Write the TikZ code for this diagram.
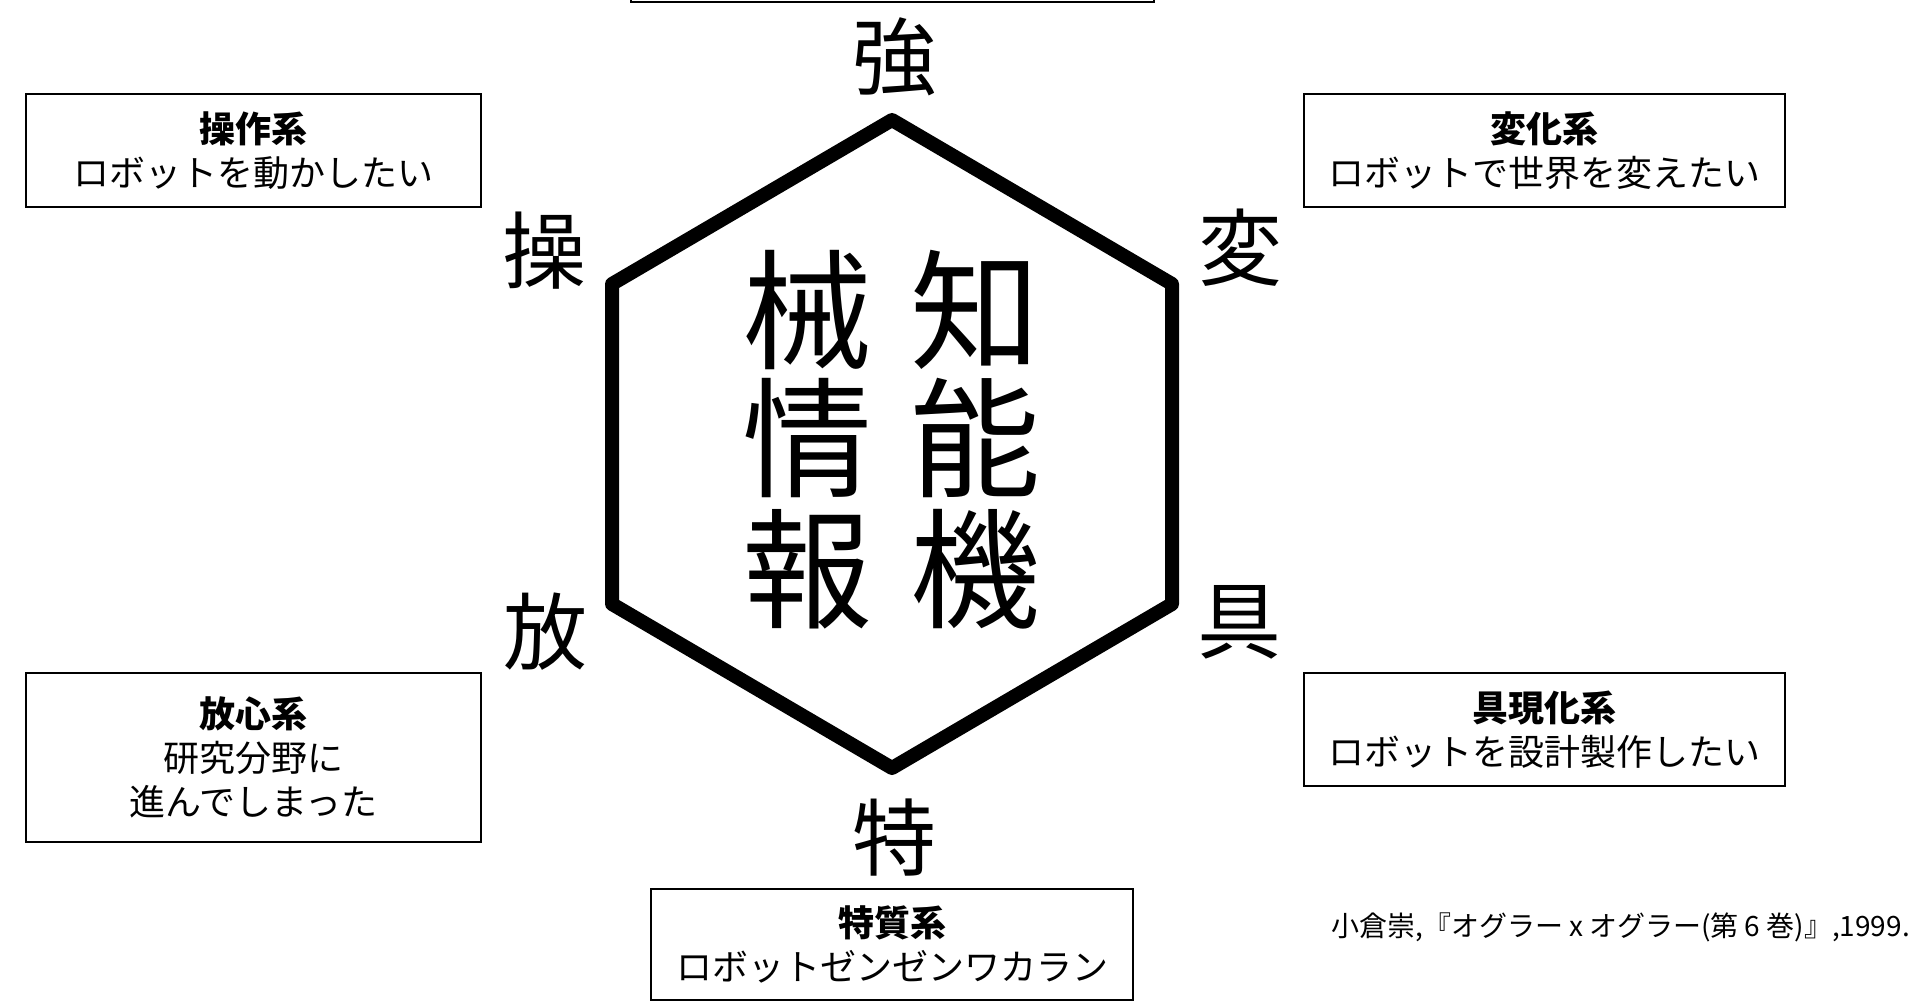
\documentclass[tikz,border=0pt]{standalone}
\usepackage{fontspec}
\setmainfont{Noto Sans CJK JP}
\begin{document}
\begin{tikzpicture}[x=1pt,y=-1pt,
    kei/.style={draw,line width=2pt,align=center,inner sep=0pt,font=\fontsize{36}{44}\selectfont},
    kado/.style={font=\fontsize{84}{84}\selectfont},
    moji/.style={font=\fontsize{130}{130}\selectfont}]
    \useasboundingbox (0,0) rectangle (1920,1004);
    % hexagon
    \draw[line width=14pt,line join=round] (892,120) -- (1172,284) -- (1172,604) -- (892,768) -- (612,604) -- (612,284) -- cycle;
    % center text
    \node[moji] (chi) at (975,310) {知};
    \node[moji] (no) at (975,438) {能};
    \node[moji] (ki) at (975,569) {機};
    \node[moji] (kai) at (807,310) {械};
    \node[moji] (jo) at (807,438) {情};
    \node[moji] (ho) at (807,569) {報};
    % corner labels
    \node[kado] (kyo) at (894,57) {強};
    \node[kado] (so) at (544,251) {操};
    \node[kado] (hen) at (1240,248) {変};
    \node[kado] (hou) at (545,632) {放};
    \node[kado] (gu) at (1239,622) {具};
    \node[kado] (toku) at (894,838) {特};
    % boxes
    \node[kei,minimum width=523pt,minimum height=120pt,anchor=south] (kyoka) at (892.5,3) {};
    \node[kei,minimum width=455pt,minimum height=113pt] (sosa) at (253.5,150.5) {\bfseries 操作系\\ロボットを動かしたい};
    \node[kei,minimum width=481pt,minimum height=113pt] (henka) at (1544.5,150.5) {\bfseries 変化系\\ロボットで世界を変えたい};
    \node[kei,minimum width=455pt,minimum height=169pt] (hoshin) at (253.5,757.5) {\bfseries 放心系\\研究分野に\\進んでしまった};
    \node[kei,minimum width=481pt,minimum height=113pt] (gugen) at (1544.5,729.5) {\bfseries 具現化系\\ロボットを設計製作したい};
    \node[kei,minimum width=482pt,minimum height=111pt] (tokushitsu) at (892,944.5) {\bfseries 特質系\\ロボットゼンゼンワカラン};
    % source
    \node[anchor=east,inner sep=0pt,font=\fontsize{28}{28}\selectfont] (shutten) at (1910,927) {小倉崇,『オグラー x オグラー(第 6 巻)』,1999.};
\end{tikzpicture}
\end{document}
